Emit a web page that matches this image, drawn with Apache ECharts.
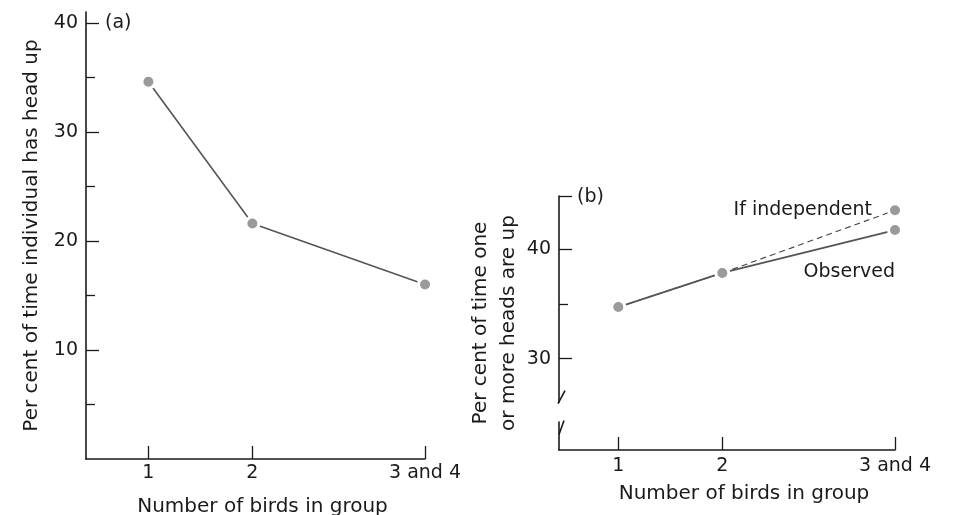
<!DOCTYPE html>
<html><head><meta charset="utf-8">
<script src="https://cdn.jsdelivr.net/npm/echarts@6/dist/echarts.min.js"></script>
<style>html,body{margin:0;padding:0;background:#fff}#c{width:956px;height:515px}</style>
</head><body><div id="c"></div>
<script>
// ---- data ----
const groupLabels = ["1", "2", "3 and 4"];
const groupPos = [1, 2, 3.66];
const headUpA = [34.6, 21.6, 16.0];
const observedB = [34.7, 37.8, 41.7];
const independentB = [34.7, 37.8, 43.5];
const yLabelsA = [10, 20, 30, 40];
const yMinorA = [5, 15, 25, 35];
const yLabelsB = [30, 40];
const yMinorB = [35];
const yTopB = 44.8;
const yBottomB = 21.7;

const FONT = 'DejaVu Sans';
const INK = '#1a1a1a';
const chart = echarts.init(document.getElementById('c'));

function xAxis(grid, min, max, padLeft, gap, labelMargin) {
  return {
    type: 'value', gridIndex: grid, min: min, max: max, position: 'bottom',
    name: 'Number of birds in group', nameLocation: 'middle', nameGap: gap,
    nameTextStyle: { fontFamily: FONT, fontSize: 20, color: INK, padding: [0, 0, 0, padLeft] },
    axisLine: { lineStyle: { color: INK, width: 1.6 } },
    axisTick: { inside: true, length: 13, customValues: groupPos, lineStyle: { color: INK, width: 1.3 } },
    axisLabel: {
      customValues: groupPos, margin: labelMargin, fontFamily: FONT, fontSize: 19, color: INK,
      formatter: v => { const i = groupPos.findIndex(p => Math.abs(p - v) < 1e-6); return i >= 0 ? groupLabels[i] : ''; }
    },
    splitLine: { show: false }
  };
}
function yMajor(grid, min, max, labels, ticks, name, gap) {
  return {
    type: 'value', gridIndex: grid, min: min, max: max, position: 'left',
    name: name, nameLocation: 'middle', nameGap: gap, nameRotate: 90,
    nameTextStyle: { fontFamily: FONT, fontSize: 20, color: INK, lineHeight: 28 },
    axisLine: { show: true, lineStyle: { color: INK, width: 1.6 } },
    axisTick: { show: true, inside: true, length: 13, customValues: ticks, lineStyle: { color: INK, width: 1.3 } },
    axisLabel: { customValues: labels, margin: 8, fontFamily: FONT, fontSize: 19, color: INK },
    splitLine: { show: false }
  };
}
function yMinor(grid, min, max, ticks) {
  return {
    type: 'value', gridIndex: grid, min: min, max: max, position: 'left',
    axisLine: { show: false },
    axisTick: { show: true, inside: true, length: 9, customValues: ticks, lineStyle: { color: INK, width: 1.3 } },
    axisLabel: { show: false }, splitLine: { show: false }
  };
}
const pointStyle = { color: '#9a9a9a', borderColor: '#ffffff', borderWidth: 3 };

chart.setOption({
  animation: false,
  backgroundColor: '#ffffff',
  title: [
    { text: '(a)', left: 100, top: 9, textStyle: { fontFamily: FONT, fontSize: 19, fontWeight: 'normal', color: INK } },
    { text: '(b)', left: 572, top: 183, textStyle: { fontFamily: FONT, fontSize: 19, fontWeight: 'normal', color: INK } }
  ],
  grid: [
    { left: 86, right: 531, top: 12, bottom: 56, containLabel: false, outerBoundsMode: 'none' },
    { left: 559, right: 61, top: 196, bottom: 65, containLabel: false, outerBoundsMode: 'none' }
  ],
  xAxis: [xAxis(0, 0.4, 3.66, 14, 38, 5), xAxis(1, 0.43, 3.66, 34, 34, 7)],
  yAxis: [
    yMajor(0, 0, 41, yLabelsA, yLabelsA, 'Per cent of time individual has head up', 40),
    yMinor(0, 0, 41, yMinorA),
    yMajor(1, yBottomB, yTopB, yLabelsB, yLabelsB.concat([yTopB]), 'Per cent of time one\nor more heads are up', 35),
    yMinor(1, yBottomB, yTopB, yMinorB)
  ],
  series: [
    {
      type: 'line', xAxisIndex: 0, yAxisIndex: 0,
      data: groupPos.map((x, i) => [x, headUpA[i]]),
      symbol: 'circle', symbolSize: 13, itemStyle: pointStyle,
      lineStyle: { color: '#555', width: 1.6 }, z: 3
    },
    {
      type: 'line', xAxisIndex: 1, yAxisIndex: 2,
      data: groupPos.map((x, i) => {
        const d = { value: [x, independentB[i]] };
        if (i === groupPos.length - 1) d.label = { show: true, formatter: 'If independent', position: 'left', distance: 15 };
        return d;
      }),
      symbol: 'circle', symbolSize: 13, itemStyle: pointStyle,
      label: { show: false, fontFamily: FONT, fontSize: 19, color: INK },
      lineStyle: { color: '#444', width: 1.1, type: [6, 4] }, z: 3
    },
    {
      type: 'line', xAxisIndex: 1, yAxisIndex: 2,
      data: groupPos.map((x, i) => {
        const d = { value: [x, observedB[i]] };
        if (i === groupPos.length - 1) d.label = { show: true, formatter: 'Observed', position: 'bottom', align: 'right', distance: 24 };
        return d;
      }),
      symbol: 'circle', symbolSize: 13, itemStyle: pointStyle,
      label: { show: false, fontFamily: FONT, fontSize: 19, color: INK },
      lineStyle: { color: '#555', width: 1.8 }, z: 4
    }
  ]
});

// axis break on panel (b) y axis, placed through the axis scale
const breakHi = 26.0, breakLo = 24.3;
const pHi = chart.convertToPixel({ xAxisIndex: 1, yAxisIndex: 2 }, [0.43, breakHi]);
const pLo = chart.convertToPixel({ xAxisIndex: 1, yAxisIndex: 2 }, [0.43, breakLo]);
const ax = pHi[0];
chart.setOption({
  graphic: [
    { type: 'rect', shape: { x: ax - 4, y: pHi[1], width: 8, height: pLo[1] - pHi[1] }, style: { fill: '#fff' }, z: 100 },
    { type: 'line', shape: { x1: ax + 6, y1: pHi[1] - 12, x2: ax - 1, y2: pHi[1] + 1 }, style: { stroke: INK, lineWidth: 1.6 }, z: 101 },
    { type: 'line', shape: { x1: ax + 5, y1: pLo[1] - 1, x2: ax, y2: pLo[1] + 13 }, style: { stroke: INK, lineWidth: 1.6 }, z: 101 }
  ]
});
</script>
</body></html>
